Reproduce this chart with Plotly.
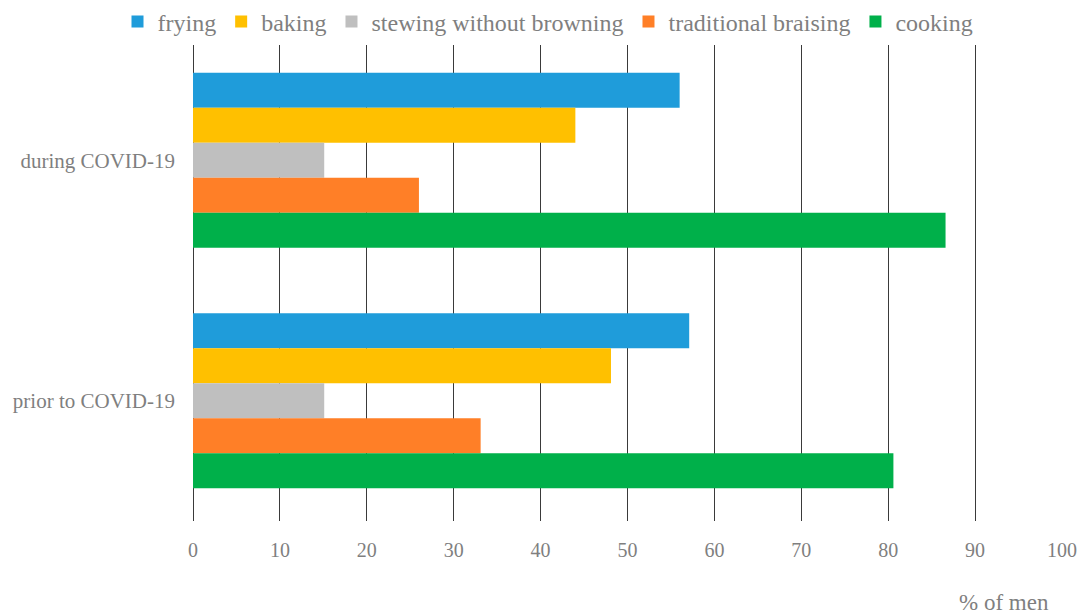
import plotly.graph_objects as go

periods = ["during COVID-19", "prior to COVID-19"]
series_names = ["frying", "baking", "stewing without browning", "traditional braising", "cooking"]
frying = [56.0, 57.1]
baking = [44.0, 48.1]
stewing = [15.1, 15.1]
braising = [26.0, 33.1]
cooking = [86.6, 80.6]
colors = ["#1F9CDA", "#FFC000", "#BFBFBF", "#FF7F27", "#00B04A"]
x_ticks = list(range(0, 101, 10))

values = [frying, baking, stewing, braising, cooking]
FONT = "Liberation Serif"
GREY = "#7F7F7F"

W, H = 1081, 614
L, T = 193, 40
PW, PH = 869, 481

fig = go.Figure()
for name, vals, col in zip(series_names, values, colors):
    fig.add_trace(go.Bar(
        y=periods, x=vals, name=name, orientation="h",
        marker=dict(color=col, line=dict(width=0)),
    ))

fig.update_layout(
    width=W, height=H,
    margin=dict(l=L, r=W - L - PW, t=T, b=H - T - PH, autoexpand=False),
    paper_bgcolor="white", plot_bgcolor="white",
    barmode="group", bargap=0.272, bargroupgap=0,
    font=dict(family=FONT, color=GREY),
    legend=dict(
        orientation="h", xref="container", yref="container",
        x=548 / W, xanchor="center", y=1 - 22 / H, yanchor="middle",
        font=dict(family=FONT, size=24, color=GREY),
        itemwidth=30, tracegroupgap=0,
    ),
    xaxis=dict(
        range=[0, 100], tickvals=x_ticks, showgrid=True,
        gridcolor="#3A3A3A", gridwidth=1, zeroline=True,
        zerolinecolor="#3A3A3A", zerolinewidth=1, showline=False,
        tickfont=dict(family=FONT, size=20, color=GREY),
        ticklabelstandoff=15,
    ),
    yaxis=dict(
        categoryorder="array", categoryarray=periods, autorange="reversed",
        showgrid=False, zeroline=False, showline=False,
        tickfont=dict(family=FONT, size=21, color=GREY),
        ticklabelstandoff=17,
    ),
    annotations=[dict(
        text="% of men", xref="paper", yref="paper",
        x=(1004 - 193) / PW, y=-(602 - 521) / PH,
        xanchor="center", yanchor="middle", showarrow=False,
        font=dict(family=FONT, size=23, color=GREY),
    )],
)

fig.write_html(
    "out.html",
    config={"displayModeBar": False},
    post_script="document.body.style.margin='0';document.body.style.overflow='hidden';",
)
